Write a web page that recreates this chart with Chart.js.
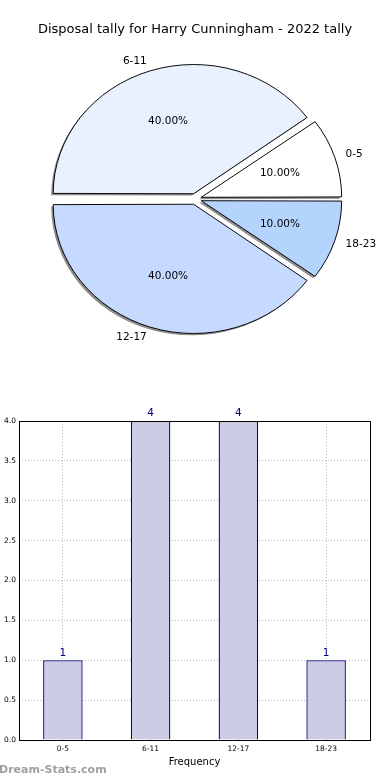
<!DOCTYPE html>
<html>
<head>
<meta charset="utf-8">
<script src="https://cdn.jsdelivr.net/npm/chart.js@4"></script>
<style>
  html, body { margin: 0; padding: 0; background: #fff; }
  #wrap { position: relative; width: 390px; height: 780px; overflow: hidden; }
  #pie { position: absolute; left: 0; top: 0; }
  #bar { position: absolute; left: 0; top: 360px; }
</style>
</head>
<body>
<div id="wrap">
  <canvas id="pie" width="390" height="360"></canvas>
  <canvas id="bar" width="390" height="420"></canvas>
</div>
<script>
var title = 'Disposal tally for Harry Cunningham - 2022 tally';
var categories = ['0-5', '6-11', '12-17', '18-23'];
var counts = [1, 4, 4, 1];
var sliceColors = ['#ffffff', '#eaf1fe', '#c6d9fe', '#b4d4fe'];
var yTicks = [0, 0.5, 1, 1.5, 2, 2.5, 3, 3.5, 4];

var FONT = '"DejaVu Sans", sans-serif';
Chart.defaults.font.family = FONT;
Chart.defaults.animation = false;

// pie drawn clockwise from east in chart.js, matplotlib goes the other way -> reverse
var pieLabels = categories.slice().reverse();
var pieData = counts.slice().reverse();
var pieColors = sliceColors.slice().reverse();
var total = counts.reduce(function (a, b) { return a + b; }, 0);
var SQUASH = 0.92;

var pieExtras = {
  id: 'pieExtras',
  beforeDatasetsDraw: function (chart) {
    var arcs = chart.getDatasetMeta(0).data;
    var a = arcs[0];
    var ctx = chart.ctx;
    ctx.save();
    ctx.translate(a.x, a.y);
    ctx.scale(1, SQUASH);
    ctx.translate(-a.x, -a.y);
    // shadow pass: gray copies of the wedges shifted left/down
    ctx.save();
    ctx.translate(-2, 2);
    arcs.forEach(function (arc) {
      var o = arc.options;
      var bg = o.backgroundColor, bw = o.borderWidth;
      o.backgroundColor = '#8c8c8c';
      o.borderWidth = 0;
      arc.draw(ctx);
      o.backgroundColor = bg;
      o.borderWidth = bw;
    });
    ctx.restore();
  },
  afterDatasetsDraw: function (chart) {
    chart.ctx.restore();
  },
  afterDraw: function (chart) {
    var ctx = chart.ctx;
    ctx.save();
    ctx.fillStyle = '#000';
    ctx.font = '13px ' + FONT;
    ctx.textAlign = 'center';
    ctx.textBaseline = 'middle';
    ctx.fillText(title, 195, 30);

    ctx.font = '10.5px ' + FONT;
    chart.getDatasetMeta(0).data.forEach(function (arc, i) {
      var mid = (arc.startAngle + arc.endAngle) / 2;
      var off = (arc.options.offset || 0) / 4;
      var r = arc.outerRadius;
      var c = Math.cos(mid), s = Math.sin(mid);
      var lx = arc.x + c * (r * 1.1 + off);
      var ly = arc.y + s * (r * 1.1 + off) * SQUASH;
      ctx.textAlign = c < 0 ? 'right' : 'left';
      ctx.fillText(pieLabels[i], lx, ly);
      var px = arc.x + c * (r * 0.6 + off);
      var py = arc.y + s * (r * 0.6 + off) * SQUASH;
      ctx.textAlign = 'center';
      ctx.fillText((pieData[i] / total * 100).toFixed(2) + '%', px, py);
    });
    ctx.restore();
  }
};

new Chart(document.getElementById('pie'), {
  type: 'pie',
  data: {
    labels: pieLabels,
    datasets: [{
      data: pieData,
      backgroundColor: pieColors,
      borderColor: '#000',
      borderWidth: 1,
      offset: 24,
      radius: 138
    }]
  },
  options: {
    responsive: false,
    rotation: 90,
    layout: { padding: { top: 38, left: 1, right: 0, bottom: 0 } },
    plugins: { legend: { display: false }, tooltip: { enabled: false } }
  },
  plugins: [pieExtras]
});

var barExtras = {
  id: 'barExtras',
  afterDraw: function (chart) {
    var ctx = chart.ctx;
    var area = chart.chartArea;
    ctx.save();
    ctx.strokeStyle = '#000';
    ctx.lineWidth = 1;
    ctx.strokeRect(Math.round(area.left) + 0.5, Math.round(area.top) + 0.5,
      Math.round(area.right - area.left), Math.round(area.bottom - area.top));
    ctx.fillStyle = '#000080';
    ctx.font = '10.5px ' + FONT;
    ctx.textAlign = 'center';
    ctx.textBaseline = 'bottom';
    chart.getDatasetMeta(0).data.forEach(function (bar, i) {
      ctx.fillText(String(counts[i]), bar.x, bar.y - 2);
    });
    ctx.fillStyle = '#a0a0a0';
    ctx.font = 'bold 11px ' + FONT;
    ctx.textAlign = 'left';
    ctx.textBaseline = 'middle';
    ctx.fillText('Dream-Stats.com', -1, 410);
    ctx.restore();
  }
};

new Chart(document.getElementById('bar'), {
  type: 'bar',
  data: {
    labels: categories,
    datasets: [{
      data: counts,
      backgroundColor: 'rgb(204,204,229)',
      borderColor: '#00007a',
      borderWidth: 1.3,
      barPercentage: 0.45,
      categoryPercentage: 1
    }]
  },
  options: {
    responsive: false,
    layout: { padding: { top: 61, right: 20, bottom: 12, left: 0 } },
    plugins: { legend: { display: false }, tooltip: { enabled: false } },
    scales: {
      x: {
        grid: { offset: false, color: '#b8b8b8', drawTicks: false },
        border: { display: false, dash: [1, 2] },
        ticks: { color: '#000', font: { size: 7.5 }, padding: 5 },
        title: { display: true, text: 'Frequency', color: '#000', font: { size: 10 }, padding: { top: 2, bottom: 0 } },
        afterFit: function (s) { s.height = 28; }
      },
      y: {
        min: 0,
        max: 4,
        afterBuildTicks: function (s) { s.ticks = yTicks.map(function (v) { return { value: v }; }); },
        grid: { color: '#b8b8b8', drawTicks: false },
        border: { display: false, dash: [1, 2] },
        ticks: {
          color: '#000', font: { size: 7.5 }, padding: 3,
          callback: function (v) { return Number(v).toFixed(1); }
        },
        afterFit: function (s) { s.width = 19; }
      }
    }
  },
  plugins: [barExtras]
});
</script>
</body>
</html>
